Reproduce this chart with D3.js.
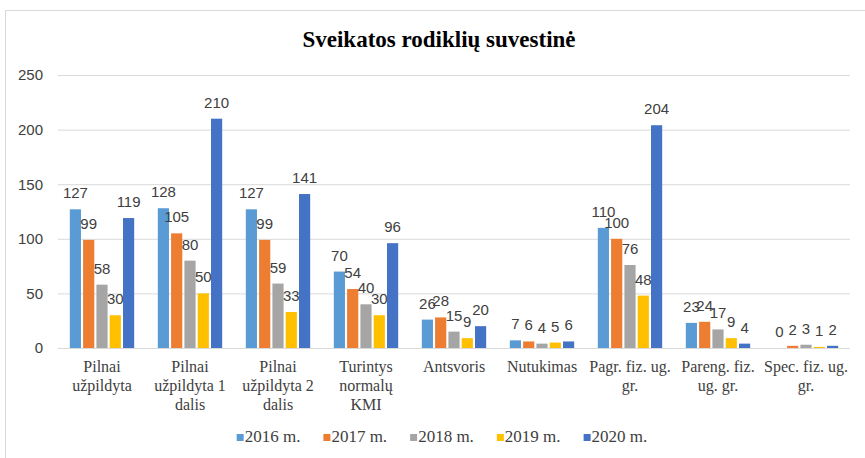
<!DOCTYPE html>
<html>
<head>
<meta charset="utf-8">
<script src="https://cdn.jsdelivr.net/npm/d3@7"></script>
<style>
  body { margin: 0; background: #fff; }
</style>
</head>
<body>
<div id="chart"></div>
<script>
// data
const categories = ['Pilnai užpildyta', 'Pilnai užpildyta 1 dalis', 'Pilnai užpildyta 2 dalis',
  'Turintys normalų KMI', 'Antsvoris', 'Nutukimas', 'Pagr. fiz. ug. gr.', 'Pareng. fiz. ug. gr.', 'Spec. fiz. ug. gr.'];
// how the category names wrap under the axis
const tickLines = [['Pilnai', 'užpildyta'], ['Pilnai', 'užpildyta 1', 'dalis'], ['Pilnai', 'užpildyta 2', 'dalis'],
  ['Turintys', 'normalų', 'KMI'], ['Antsvoris'], ['Nutukimas'], ['Pagr. fiz. ug.', 'gr.'], ['Pareng. fiz.', 'ug. gr.'], ['Spec. fiz. ug.', 'gr.']];
const years = ['2016 m.', '2017 m.', '2018 m.', '2019 m.', '2020 m.'];
const v2016 = [127, 128, 127, 70, 26, 7, 110, 23, 0];
const v2017 = [99, 105, 99, 54, 28, 6, 100, 24, 2];
const v2018 = [58, 80, 59, 40, 15, 4, 76, 17, 3];
const v2019 = [30, 50, 33, 30, 9, 5, 48, 9, 1];
const v2020 = [119, 210, 141, 96, 20, 6, 204, 4, 2];
const yTicks = [0, 50, 100, 150, 200, 250];
const colors = ['#5B9BD5', '#ED7D31', '#A5A5A5', '#FFC000', '#4472C4'];

const series = [v2016, v2017, v2018, v2019, v2020];
const width = 865, height = 458;
const pLeft = 58, pRight = 850, pTop = 75, pBottom = 348;

const svg = d3.select('#chart').append('svg')
  .attr('width', width)
  .attr('height', height);

// chart frame, cut off on the right like the screenshot
svg.append('rect')
  .attr('x', 5.5).attr('y', 10.5)
  .attr('width', 920).attr('height', 520)
  .attr('fill', 'none').attr('stroke', '#d9d9d9');

svg.append('text')
  .attr('x', 439).attr('y', 47)
  .attr('text-anchor', 'middle')
  .attr('font-family', 'Liberation Serif, serif')
  .attr('font-weight', 'bold')
  .attr('font-size', 23)
  .attr('fill', '#000')
  .text('Sveikatos rodiklių suvestinė');

const y = d3.scaleLinear().domain([0, 250]).range([pBottom, pTop]);
const x0 = d3.scaleBand().domain(categories).range([pLeft, pRight]).paddingInner(0.22).paddingOuter(0.11);
const x1 = d3.scaleBand().domain(years).range([0, x0.bandwidth()]).padding(0.16);

// gridlines + y labels
const yAxis = d3.axisLeft(y).tickValues(yTicks).tickSize(-(pRight - pLeft)).tickPadding(15);
const gy = svg.append('g').attr('transform', `translate(${pLeft},0)`).call(yAxis);
gy.select('.domain').remove();
gy.selectAll('line').attr('stroke', '#d9d9d9');
gy.selectAll('text')
  .attr('font-family', 'Liberation Sans, sans-serif')
  .attr('font-size', 15)
  .attr('fill', '#404040');

// bars
const groups = svg.selectAll('g.grp')
  .data(categories)
  .enter().append('g')
  .attr('class', 'grp')
  .attr('transform', d => `translate(${x0(d)},0)`);

groups.selectAll('rect')
  .data((d, i) => years.map((yr, k) => ({ yr, v: series[k][i], k })))
  .enter().append('rect')
  .attr('x', d => x1(d.yr))
  .attr('y', d => y(d.v))
  .attr('width', x1.bandwidth())
  .attr('height', d => pBottom - y(d.v))
  .attr('fill', d => colors[d.k]);

// value labels, they overlap in the original too
groups.selectAll('text.lbl')
  .data((d, i) => years.map((yr, k) => ({ yr, v: series[k][i], k })))
  .enter().append('text')
  .attr('class', 'lbl')
  .attr('x', d => x1(d.yr) + x1.bandwidth() / 2)
  .attr('y', d => y(d.v) - 11)
  .attr('text-anchor', 'middle')
  .attr('font-family', 'Liberation Sans, sans-serif')
  .attr('font-size', 15)
  .attr('fill', '#404040')
  .text(d => d.v);

// x axis line
svg.append('line')
  .attr('x1', pLeft).attr('x2', pRight)
  .attr('y1', pBottom + 0.5).attr('y2', pBottom + 0.5)
  .attr('stroke', '#d9d9d9');

// category labels
const xl = svg.selectAll('text.cat')
  .data(categories)
  .enter().append('text')
  .attr('class', 'cat')
  .attr('text-anchor', 'middle')
  .attr('font-family', 'Liberation Serif, serif')
  .attr('font-size', 16)
  .attr('fill', '#404040');
xl.each(function (d, i) {
  const cx = x0(d) + x0.bandwidth() / 2;
  d3.select(this).selectAll('tspan')
    .data(tickLines[i])
    .enter().append('tspan')
    .attr('x', cx)
    .attr('y', (t, j) => 372 + j * 19)
    .text(t => t);
});

// legend
const leg = svg.append('g');
let lx = 0;
years.forEach((yr, k) => {
  const it = leg.append('g').attr('transform', `translate(${lx},0)`);
  it.append('rect').attr('x', 0).attr('y', -8).attr('width', 7).attr('height', 7).attr('fill', colors[k]);
  const t = it.append('text')
    .attr('x', 8).attr('y', 0)
    .attr('font-family', 'Liberation Serif, serif')
    .attr('font-size', 17)
    .attr('fill', '#404040')
    .text(yr);
  lx += 8 + t.node().getComputedTextLength() + 23;
});
const legW = lx - 23;
leg.attr('transform', `translate(${442 - legW / 2},442)`);
</script>
</body>
</html>
